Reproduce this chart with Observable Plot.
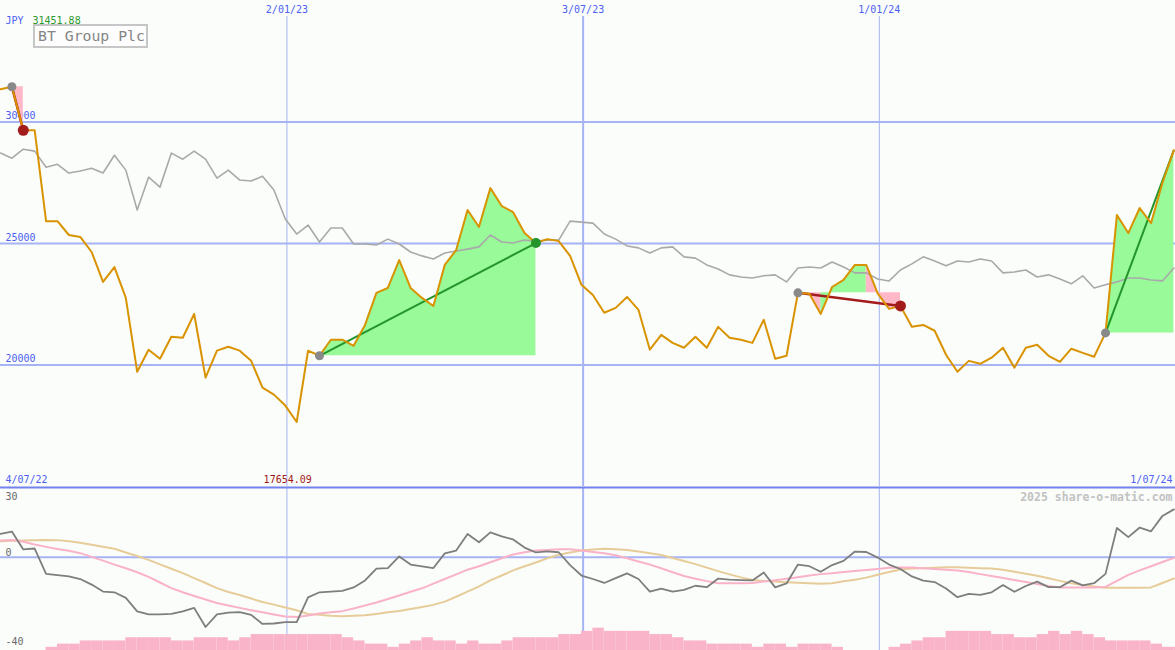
<!DOCTYPE html>
<html>
<head>
<meta charset="utf-8">
<script src="https://cdn.jsdelivr.net/npm/d3@7"></script>
<script src="https://cdn.jsdelivr.net/npm/@observablehq/plot@0.6"></script>
<style>
  html, body { margin: 0; padding: 0; background: #fbfdfb; }
  #wrap { position: relative; width: 1175px; height: 650px; overflow: hidden; font-family: "DejaVu Sans Mono", monospace; background: #fbfdfb; }
  #main { position: absolute; left: 0; top: 0; }
  #lower { position: absolute; left: 0; top: 486px; }
  #title { position: absolute; left: 33px; top: 24px; width: 108px; height: 20px; border: 2px solid #c6c6c6;
           font: 14.8px "DejaVu Sans Mono", monospace; color: #858585; line-height: 20px; padding-left: 3px;
           white-space: nowrap; overflow: hidden; background: #fcfdfc; }
  svg { overflow: visible; }
</style>
</head>
<body>
<div id="wrap">
  <div id="main"></div>
  <div id="lower"></div>
  <div id="title"></div>
</div>
<script>
// ---------------- data ----------------
const currency = "JPY";
const company = "BT Group Plc";
const watermark = "2025 share-o-matic.com";
const firstWeek = "2022-07-10";
const lastWeek = "2024-06-30";
const cornerDates = ["2022-07-04", "2024-07-01"];
const gridDates = ["2023-01-02", "2023-07-03", "2024-01-01"];
const priceTicks = [20000, 25000, 30000];
const lowerTicks = [30, 0, -40];

// share price (orange)
const price = [
  31350, 31451.88, 29660, 29660, 25920, 25920, 25350, 25270, 24650, 23420,
  24030, 22760, 19720, 20630, 20260, 21160, 21120, 22100, 19480, 20590,
  20750, 20590, 20170, 19070, 18780, 18330, 17654.09, 20590, 20380, 21040,
  21040, 20790, 21650, 22970, 23170, 24320, 23170, 22760, 22430, 24120,
  24730, 26380, 25680, 27280, 26540, 26290, 25430, 25020, 25180, 25100,
  24490, 23300, 22880, 22150, 22350, 22800, 22270, 20630, 21240, 20910,
  20710, 21160, 20710, 21570, 21120, 21040, 20910, 21860, 20260, 20380,
  22970, 22930, 22100, 23210, 23500, 24120, 24120, 22950, 22310, 22430,
  21570, 21650, 21410, 20420, 19720, 20170, 20050, 20300, 20710, 19890,
  20710, 20830, 20380, 20130, 20670, 20500, 20340, 21320, 26170, 25430,
  26460, 25840, 27500, 28840
];
// comparison index (grey)
const index = [
  28720, 28510, 28880, 28800, 28140, 28260, 27900, 27980, 28100, 27900,
  28630, 28020, 26380, 27730, 27320, 28720, 28470, 28800, 28470, 27690,
  28020, 27610, 27570, 27770, 27200, 26010, 25390, 25760, 25060, 25640,
  25640, 24980, 24980, 24940, 25180, 24980, 24650, 24490, 24360, 24610,
  24690, 24770, 24860, 25350, 25060, 25020, 25140, 25100, 25140, 25140,
  25920, 25880, 25840, 25390, 25180, 24900, 24820, 24610, 24820, 24860,
  24450, 24400, 24120, 23950, 23710, 23620, 23580, 23670, 23710, 23420,
  23990, 24030, 23990, 24240, 24030, 23790, 23790, 23540, 23460, 23910,
  24160, 24450, 24280, 24080, 24280, 24240, 24360, 24280, 23790, 23830,
  23910, 23620, 23710, 23540, 23340, 23670, 23170, 23300, 23420, 23580,
  23580, 23500, 23460, 23990
];
// lower panel: momentum (dark grey)
const momentum = [
  10.1, 11.1, 3.4, 3.8, -7.1, -7.6, -8.2, -9.3, -11.7, -14.7,
  -15.0, -17.4, -23.2, -24.5, -24.5, -24.3, -23.2, -21.7, -29.9, -24.5,
  -23.7, -23.5, -24.7, -28.6, -28.4, -27.8, -27.8, -17.2, -15.0, -14.7,
  -14.4, -12.9, -9.9, -4.8, -4.6, 0.4, -3.1, -3.9, -4.6, 1.7,
  2.9, 10.0, 6.5, 10.7, 9.0, 7.7, 4.2, 2.1, 2.6, 2.2,
  -3.3, -7.8, -9.3, -11.0, -8.9, -6.9, -9.3, -14.7, -13.4, -14.7,
  -14.0, -12.2, -12.8, -9.1, -9.6, -9.8, -9.9, -6.5, -12.9, -11.2,
  -3.1, -3.8, -6.2, -3.3, -1.5, 2.5, 2.3, -0.1, -3.1, -5.0,
  -8.2, -10.0, -10.6, -13.4, -17.1, -15.7, -16.1, -15.0, -11.9, -14.8,
  -12.3, -10.4, -12.8, -12.8, -10.0, -12.0, -11.1, -7.1, 12.6, 8.7,
  12.8, 11.2, 17.8, 20.6
];
// lower panel: fast average (pink)
const fastAvg = [
  7.2, 7.5, 6.7, 5.5, 4.5, 3.6, 2.8, 1.8, 0.2, -1.4,
  -3.1, -4.7, -6.4, -8.4, -10.8, -13.2, -15.0, -16.6, -18.1, -19.6,
  -20.7, -21.7, -22.7, -23.6, -24.5, -25.4, -25.6, -25.0, -24.1, -23.6,
  -23.1, -22.0, -20.7, -19.4, -17.9, -16.4, -14.8, -13.3, -11.3, -9.3,
  -7.3, -5.3, -3.8, -2.1, -0.4, 1.2, 2.2, 2.9, 3.2, 3.5,
  3.5, 2.9, 2.3, 1.8, 0.9, -0.4, -1.8, -3.1, -4.7, -6.4,
  -8.0, -9.2, -10.2, -11.1, -11.1, -11.1, -11.0, -10.4, -9.8, -9.2,
  -8.5, -7.8, -7.2, -6.8, -6.3, -5.9, -5.4, -5.0, -4.5, -4.4,
  -4.4, -4.7, -5.0, -5.3, -5.6, -6.3, -7.2, -8.0, -8.9, -9.7,
  -10.6, -11.4, -12.3, -12.9, -12.9, -12.9, -12.9, -12.7, -10.1, -7.5,
  -5.6, -3.8, -2.0, -0.2
];
// lower panel: slow average (tan)
const slowAvg = [
  6.9, 7.1, 7.2, 7.3, 7.5, 7.4, 6.9, 6.3, 5.4, 4.6,
  3.7, 2.1, 0.6, -1.1, -3.0, -4.9, -6.8, -8.9, -11.0, -13.2,
  -14.9, -16.2, -17.7, -19.2, -20.3, -21.5, -22.7, -24.3, -24.7, -25.1,
  -25.3, -25.1, -24.9, -24.3, -23.6, -23.0, -22.2, -21.3, -20.4, -19.0,
  -16.9, -14.7, -12.5, -9.9, -7.8, -5.6, -3.8, -2.2, -0.4, 1.1,
  2.1, 2.9, 3.4, 3.7, 3.5, 3.2, 2.5, 1.8, 1.0, -0.3,
  -1.6, -2.9, -4.4, -5.9, -7.3, -8.6, -9.7, -10.1, -10.4, -10.7,
  -10.9, -11.1, -11.3, -11.1, -10.3, -9.6, -8.7, -7.5, -6.3, -5.2,
  -4.8, -4.7, -4.5, -4.3, -4.3, -4.5, -4.7, -4.8, -5.3, -6.2,
  -7.0, -7.9, -9.0, -10.1, -11.1, -11.9, -12.5, -13.1, -13.1, -13.1,
  -13.1, -12.9, -11.0, -9.1
];
// weekly volume (relative level)
const volume = [
  0, 0, 0, 0, 1, 2, 2, 3, 3, 3,
  3, 4, 4, 4, 4, 3, 3, 4, 4, 4,
  3, 4, 5, 5, 5, 5, 5, 5, 5, 5,
  4, 3, 2, 2, 1, 2, 3, 4, 3, 3,
  2, 3, 2, 2, 3, 4, 4, 4, 4, 5,
  5, 6, 7, 6, 6, 6, 6, 5, 5, 4,
  3, 3, 2, 2, 2, 2, 1, 2, 2, 1,
  2, 2, 2, 1, 0, 0, 0, 0, 1, 2,
  3, 4, 4, 6, 6, 6, 6, 5, 5, 4,
  4, 5, 6, 5, 6, 5, 4, 3, 3, 3,
  3, 2, 1, 1
];
// trend signals: start and end week (index into the weekly series)
const signalStart = [1, 28, 70, 97];
const signalEnd = [2, 47, 79, 103];
const signalClosed = [true, true, true, false];

// ---------------- styles ----------------
const BLUE_TEXT = "#4d5ff2";
const GRID = "#a6b3f5";
const SEP = "#7382ee";
const ORANGE = "#d99300";
const GREY = "#a9a9a9";
const DARK = "#7e7e7e";
const PINK_LINE = "#f9b2c8";
const TAN_LINE = "#e6cc98";
const VOL_PINK = "#f9b4c9";
const FILL_UP = "#98fa98";
const FILL_DOWN = "#ffb8c8";
const RED = "#a31c1c";
const GREEN = "#23952b";
const DOT_GREY = "#898989";
const VOL_UNIT = 1.37;

document.getElementById("title").textContent = company;

const parse = d3.utcParse("%Y-%m-%d");
const fmt = d3.utcFormat("%-d/%m/%y");
const dates = d3.utcWeek.range(parse(firstWeek), d3.utcDay.offset(parse(lastWeek), 1));
const xDomain = [parse(firstWeek), parse(cornerDates[1])];
const grid = gridDates.map(parse);

const series = dates.map((d, i) => ({
  date: d, next: i + 1 < dates.length ? dates[i + 1] : d3.utcWeek.offset(d, 1),
  price: price[i], index: index[i], momentum: momentum[i], fast: fastAvg[i], slow: slowAvg[i], vol: volume[i]
}));

// fill between price and the signal's starting level, one polygon per run of same colour
const fillRows = [];
let run = 0;
signalStart.forEach((a, s) => {
  const b = signalEnd[s], base = price[a];
  let prevKind = null;
  for (let i = a; i < b; i++) {
    const kind = price[i + 1] >= base ? "up" : "down";
    if (kind !== prevKind) {
      run++;
      fillRows.push({date: dates[i], base, value: price[i], seg: run, kind});
    }
    fillRows.push({date: dates[i + 1], base, value: price[i + 1], seg: run, kind});
    prevKind = kind;
  }
});
const signals = signalStart.map((a, s) => ({
  a, b: signalEnd[s], closed: signalClosed[s], up: price[signalEnd[s]] >= price[a]
}));

const maxPrice = d3.max(price), minPrice = d3.min(price);
const minDate = dates[price.indexOf(minPrice)];

const font = {fontFamily: "DejaVu Sans Mono, monospace", fontSize: "10px"};
const linkOpts = {x1: d => dates[d.a], y1: d => price[d.a], x2: d => dates[d.b], y2: d => price[d.b]};

// ---------------- main panel ----------------
const main = Plot.plot({
  width: 1175, height: 487,
  marginTop: 0, marginLeft: 0, marginRight: 0, marginBottom: 1,
  x: {type: "utc", domain: xDomain, axis: null},
  y: {domain: [15000, 35000], axis: null},
  style: {background: "transparent", overflow: "visible", ...font},
  marks: [
    Plot.ruleY(priceTicks, {stroke: GRID, strokeWidth: 2}),
    Plot.ruleX(grid.filter(d => d.getUTCMonth() !== 6), {stroke: GRID, strokeWidth: 1, insetTop: 16}),
    Plot.ruleX(grid.filter(d => d.getUTCMonth() === 6), {stroke: GRID, strokeWidth: 2, insetTop: 16}),
    Plot.text(priceTicks, {y: d => d, frameAnchor: "left", text: d => String(d), textAnchor: "start", lineAnchor: "middle", dx: 5, dy: -6, fill: BLUE_TEXT}),
    Plot.text(grid, {x: d => d, frameAnchor: "top", text: d => fmt(d), lineAnchor: "middle", dy: 9, fill: BLUE_TEXT}),
    Plot.text([currency], {frameAnchor: "top-left", textAnchor: "start", lineAnchor: "middle", dx: 5, dy: 20, fill: BLUE_TEXT}),
    Plot.text([maxPrice.toFixed(2)], {frameAnchor: "top-left", textAnchor: "start", lineAnchor: "middle", dx: 32, dy: 20, fill: "#2a9a2a"}),
    Plot.text([fmt(parse(cornerDates[0]))], {frameAnchor: "bottom-left", textAnchor: "start", lineAnchor: "middle", dx: 5, dy: -7, fill: BLUE_TEXT}),
    Plot.text([fmt(parse(cornerDates[1]))], {frameAnchor: "bottom-right", textAnchor: "end", lineAnchor: "middle", dx: -3, dy: -7, fill: BLUE_TEXT}),
    Plot.text([minPrice.toFixed(2)], {x: () => minDate, frameAnchor: "bottom", lineAnchor: "middle", dx: -9, dy: -7, fill: "#a01818"}),
    Plot.areaY(fillRows.filter(d => d.kind === "up"), {x: "date", y1: "base", y2: "value", z: "seg", fill: FILL_UP}),
    Plot.areaY(fillRows.filter(d => d.kind === "down"), {x: "date", y1: "base", y2: "value", z: "seg", fill: FILL_DOWN}),
    Plot.line(series, {x: "date", y: "index", stroke: GREY, strokeWidth: 1.6}),
    Plot.link(signals.filter(d => d.up), {...linkOpts, stroke: GREEN, strokeWidth: 2}),
    Plot.link(signals.filter(d => !d.up), {...linkOpts, stroke: RED, strokeWidth: 2.5}),
    Plot.line(series, {x: "date", y: "price", stroke: ORANGE, strokeWidth: 2}),
    Plot.dot(signals, {x: d => dates[d.a], y: d => price[d.a], r: 4.5, fill: DOT_GREY}),
    Plot.dot(signals.filter(d => d.closed && d.up), {x: d => dates[d.b], y: d => price[d.b], r: 5, fill: GREEN}),
    Plot.dot(signals.filter(d => d.closed && !d.up), {x: d => dates[d.b], y: d => price[d.b], r: 5.5, fill: RED})
  ]
});
document.getElementById("main").append(main);

// ---------------- lower panel ----------------
const lowerLabel = (v, dy) => Plot.text(lowerTicks.filter(d => d === v), {y: d => d, frameAnchor: "left", text: d => String(d),
  textAnchor: "start", lineAnchor: "middle", dx: 5, dy, fill: "#6a6a6a"});

const lower = Plot.plot({
  width: 1175, height: 164,
  marginTop: 1, marginLeft: 0, marginRight: 0, marginBottom: 0,
  x: {type: "utc", domain: xDomain, axis: null},
  y: {domain: [-40, 30], axis: null},
  style: {background: "transparent", overflow: "visible", ...font},
  marks: [
    Plot.ruleX(grid.filter(d => d.getUTCMonth() !== 6), {stroke: GRID, strokeWidth: 1}),
    Plot.ruleX(grid.filter(d => d.getUTCMonth() === 6), {stroke: GRID, strokeWidth: 2}),
    Plot.ruleY([0], {stroke: GRID, strokeWidth: 2}),
    Plot.rect(series.filter(d => d.vol > 0), {x1: "date", x2: "next", y1: -40, y2: d => -40 + d.vol * VOL_UNIT, fill: VOL_PINK}),
    Plot.line(series, {x: "date", y: "slow", stroke: TAN_LINE, strokeWidth: 2}),
    Plot.line(series, {x: "date", y: "fast", stroke: PINK_LINE, strokeWidth: 2}),
    Plot.line(series, {x: "date", y: "momentum", stroke: DARK, strokeWidth: 1.8}),
    Plot.ruleY([30], {stroke: SEP, strokeWidth: 2}),
    lowerLabel(lowerTicks[0], 9),
    lowerLabel(lowerTicks[1], -5),
    lowerLabel(lowerTicks[2], -9),
    Plot.text([watermark], {frameAnchor: "top-right", textAnchor: "end", lineAnchor: "middle", dx: -3, dy: 10,
      fill: "#c2c2c2", fontWeight: "bold", fontSize: 11.5})
  ]
});
document.getElementById("lower").append(lower);
</script>
</body>
</html>
